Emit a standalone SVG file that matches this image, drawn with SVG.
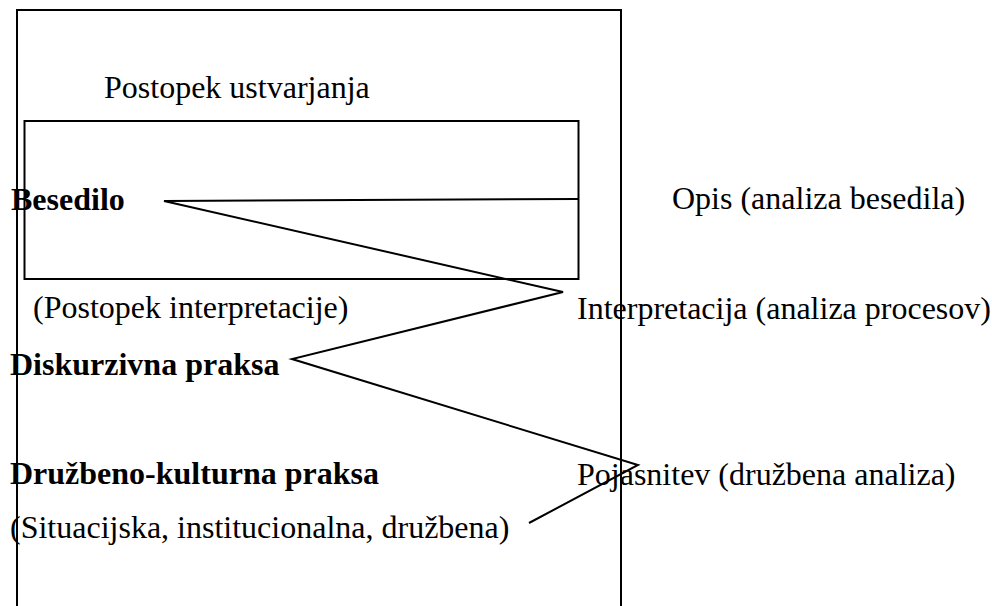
<svg xmlns="http://www.w3.org/2000/svg" width="992" height="606" viewBox="0 0 992 606">
<style>
.t{font-family:"Liberation Serif","Times New Roman",serif;font-size:32px;fill:#000}
.b{font-weight:bold}
.frame{fill:none;stroke:#000;stroke-width:2}
.conn{fill:none;stroke:#000;stroke-width:2;stroke-linejoin:miter}
</style>
<rect width="992" height="606" fill="#fff"/>
<g id="outer-frame"><path class="frame" d="M17,620 V10 H621 V620"/></g>
<g id="inner-box"><rect class="frame" x="24.5" y="121" width="554" height="158"/></g>
<g id="connectors">
<polyline class="conn" points="579,199 164,201 563,292 292,359 638,465 529,523"/>
</g>
<g id="label-postopek-ustvarjanja"><text class="t" x="104" y="98">Postopek ustvarjanja</text></g>
<g id="node-besedilo"><text class="t b" x="11" y="210">Besedilo</text></g>
<g id="label-postopek-interpretacije"><text class="t" x="33" y="318">(Postopek interpretacije)</text></g>
<g id="node-diskurzivna"><text class="t b" x="10" y="375">Diskurzivna praksa</text></g>
<g id="node-druzbeno"><text class="t b" x="10" y="484">Družbeno-kulturna praksa</text>
<text class="t" x="10" y="538">(Situacijska, institucionalna, družbena)</text></g>
<g id="label-opis"><text class="t" x="672" y="209">Opis (analiza besedila)</text></g>
<g id="label-interpretacija"><text class="t" x="577" y="319">Interpretacija (analiza procesov)</text></g>
<g id="label-pojasnitev"><text class="t" x="577" y="485">Pojasnitev (družbena analiza)</text></g>
</svg>
